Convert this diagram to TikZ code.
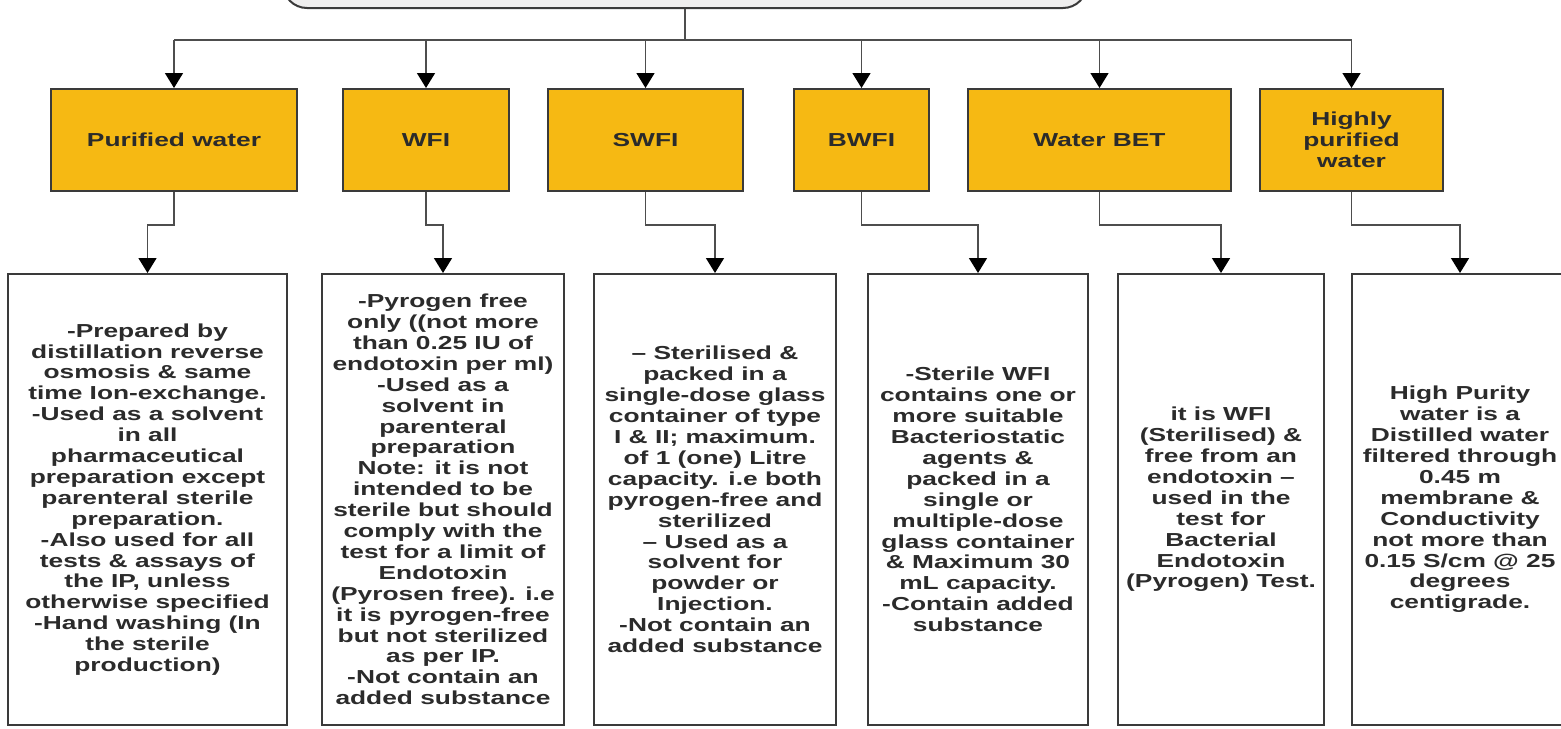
\documentclass[tikz,border=0pt]{standalone}
\usepackage{fontspec}
\setmainfont{Liberation Sans}[FakeStretch=1.4]
\usepackage{xcolor}
\usepackage{tikz}
\usetikzlibrary{positioning, arrows.meta}
\definecolor{wateryellow}{HTML}{F6B913}
\definecolor{headgray}{HTML}{EFEEEE}
\definecolor{edgegray}{HTML}{3A3A3A}
\definecolor{linkgray}{HTML}{4D4D4D}
\definecolor{inkgray}{HTML}{2B2B2B}

\tikzset{
  boxfont/.style={font=\bfseries\fontsize{9.4}{10.45}\selectfont, text=inkgray},
  waterbox/.style={draw=edgegray, line width=1pt, fill=wateryellow, inner sep=0pt,
                   minimum height=51pt, align=center, boxfont},
  notebox/.style={draw=edgegray, line width=1pt, fill=white, inner sep=0pt,
                  minimum height=225.5pt, align=center, boxfont},
  link/.style={draw=linkgray, line width=0.75pt},
  feed/.style={link, -{Triangle[length=7.5pt, width=9pt, color=black]}}
}

\begin{document}
\begin{tikzpicture}[x=0.5pt, y=-0.5pt]
  \useasboundingbox (0,0) rectangle (1561,728);

  % heading box, cut by the top edge
  \node[draw=edgegray, line width=1pt, fill=headgray, rounded corners=12pt,
        minimum width=402pt, minimum height=24pt] (head) at (685,-16) {};

  % kinds of water
  \node[waterbox, minimum width=123pt]   (pw)   at (174,140)    {Purified water};
  \node[waterbox, minimum width=83pt]    (wfi)  at (426,140)    {WFI};
  \node[waterbox, minimum width=97.5pt]  (swfi) at (645.5,140)  {SWFI};
  \node[waterbox, minimum width=67.5pt]  (bwfi) at (861.5,140)  {BWFI};
  \node[waterbox, minimum width=131.5pt] (bet)  at (1099.5,140) {Water BET};
  \node[waterbox, minimum width=91.5pt]  (hpw)  at (1351.5,140) {Highly\\purified\\water};

  % descriptions
  \node[notebox, minimum width=139.5pt] (pwtext) at (147.5,499.5) {-Prepared by\\distillation reverse\\osmosis \& same\\time Ion-exchange.\\-Used as a solvent\\in all\\pharmaceutical\\preparation except\\parenteral sterile\\preparation.\\-Also used for all\\tests \& assays of\\the IP, unless\\otherwise specified\\-Hand washing (In\\the sterile\\production)};
  \node[notebox, minimum width=121pt] (wfitext) at (443,499.5) {-Pyrogen free\\only ((not more\\than 0.25 IU of\\endotoxin per ml)\\-Used as a\\solvent in\\parenteral\\preparation\\Note: it is not\\intended to be\\sterile but should\\comply with the\\test for a limit of\\Endotoxin\\(Pyrosen free). i.e\\it is pyrogen-free\\but not sterilized\\as per IP.\\-Not contain an\\added substance};
  \node[notebox, minimum width=121pt] (swfitext) at (715,499.5) {– Sterilised \&\\packed in a\\single-dose glass\\container of type\\I \& II; maximum.\\of 1 (one) Litre\\capacity. i.e both\\pyrogen-free and\\sterilized\\– Used as a\\solvent for\\powder or\\Injection.\\-Not contain an\\added substance};
  \node[notebox, minimum width=110pt] (bwfitext) at (978,499.5) {-Sterile WFI\\contains one or\\more suitable\\Bacteriostatic\\agents \&\\packed in a\\single or\\multiple-dose\\glass container\\\& Maximum 30\\mL capacity.\\-Contain added\\substance};
  \node[notebox, minimum width=103pt] (bettext) at (1221,499.5) {it is WFI\\(Sterilised) \&\\free from an\\endotoxin –\\used in the\\test for\\Bacterial\\Endotoxin\\(Pyrogen) Test.};
  \node[notebox, minimum width=108pt] (hpwtext) at (1460,499.5) {High Purity\\water is a\\Distilled water\\filtered through\\0.45 m\\membrane \&\\Conductivity\\not more than\\0.15 S/cm @ 25\\degrees\\centigrade.};

  % connectors
  \coordinate (bus) at (0,40);
  \coordinate (bend) at (0,225);
  \draw[link] (head.south) -- (head.south |- bus);
  \draw[link] (pw.north |- bus) -- (hpw.north |- bus);
  \foreach \kind in {pw, wfi, swfi, bwfi, bet, hpw}
    \draw[feed] (\kind.north |- bus) -- (\kind.north);
  \foreach \kind in {pw, wfi, swfi, bwfi, bet, hpw}
    \draw[feed] (\kind.south) -- (\kind.south |- bend) -- (\kind text.north |- bend) -- (\kind text.north);
\end{tikzpicture}
\end{document}
